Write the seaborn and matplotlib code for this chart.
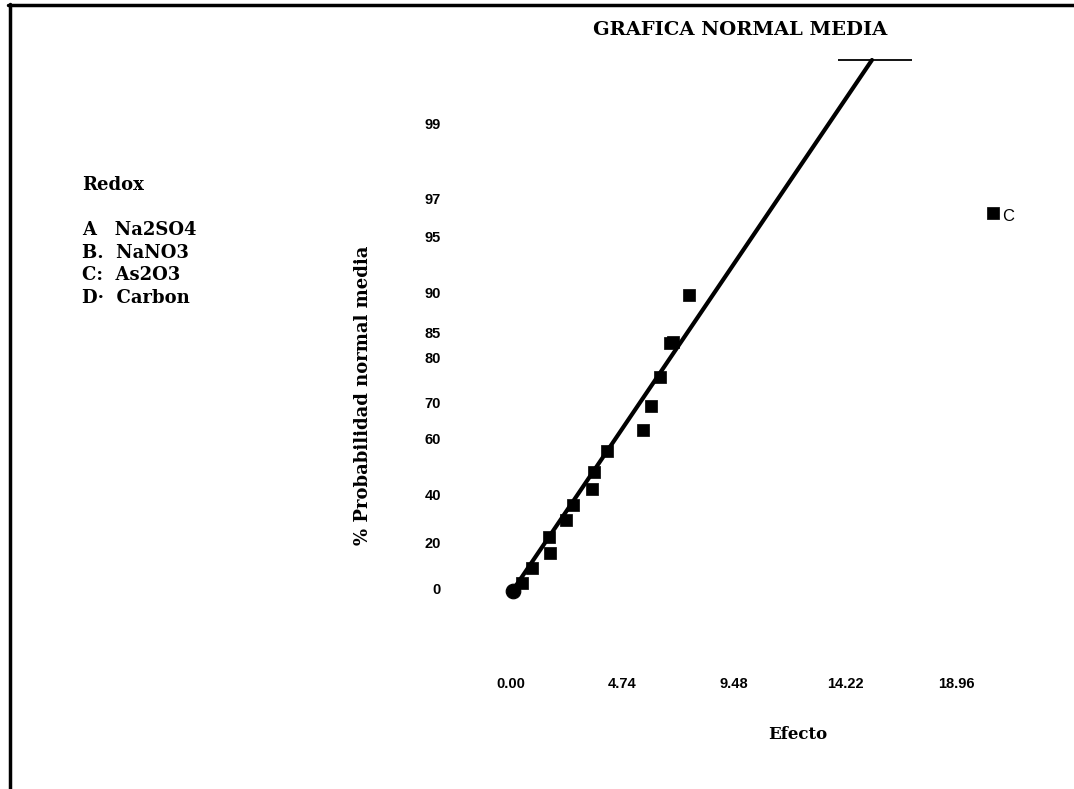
import numpy as np
import pandas as pd
import matplotlib
matplotlib.use("Agg")
import matplotlib.pyplot as plt
from matplotlib.lines import Line2D
import seaborn as sns

# ---------------- data ----------------
effect = [0.47, 0.89, 1.66, 1.62, 2.34, 2.64, 3.45, 3.53, 4.09,
          5.62, 5.96, 6.34, 6.77, 6.89, 7.57, 20.5]
score = [0.06, 0.21, 0.36, 0.52, 0.69, 0.84, 1.00, 1.17, 1.38,
         1.59, 1.83, 2.12, 2.46, 2.47, 2.94, 3.76]
origin_x = [0.08]
origin_y = [-0.02]
line_x = [0.0, 15.36]
line_y = [-0.04, 5.29]
top_seg_x = [13.9, 17.06]

x_ticks = [0.0, 4.74, 9.48, 14.22, 18.96]
x_ticklabels = ["0.00", "4.74", "9.48", "14.22", "18.96"]
y_tick_pos = [0.01, 0.47, 0.94, 1.50, 1.86, 2.31, 2.57, 2.96, 3.52, 3.90, 4.65]
y_ticklabels = ["0", "20", "40", "60", "70", "80", "85", "90", "95", "97", "99"]

legend_lines = ["A   Na2SO4", "B.  NaNO3", "C:  As2O3", "D·  Carbon"]

# ---------------- figure ----------------
sns.set_theme(style="white")
plt.rcParams["font.family"] = ["Liberation Sans Narrow", "Liberation Sans", "DejaVu Sans"]
plt.rcParams["text.color"] = "black"
plt.rcParams["axes.labelcolor"] = "black"
plt.rcParams["xtick.color"] = "black"
plt.rcParams["ytick.color"] = "black"

W, H = 1074, 789
fig = plt.figure(figsize=(W / 100, H / 100), dpi=100)
fig.patch.set_facecolor("white")

def fx(px):
    return px / W

def fy(py):
    return 1 - py / H

ax_l, ax_r, ax_t, ax_b = 470, 1040, 50, 640
ax = fig.add_axes([fx(ax_l), fy(ax_b), (ax_r - ax_l) / W, (ax_b - ax_t) / H])
ax.set_facecolor("white")

x_per_px = 1 / 23.5
ax.set_xlim((ax_l - 511) * x_per_px, (ax_r - 511) * x_per_px)
ax.set_ylim((589 - ax_b) / 100, (589 - ax_t) / 100)

df = pd.DataFrame({"Efecto": effect, "Score": score})
line_df = pd.DataFrame({"x": line_x, "y": line_y})

sns.lineplot(data=line_df, x="x", y="y", ax=ax, color="black", linewidth=3.0,
             solid_capstyle="round", zorder=2)
sns.scatterplot(data=df, x="Efecto", y="Score", ax=ax, marker="s", s=75,
                color="black", edgecolor="black", linewidth=0.5, zorder=3)
sns.scatterplot(x=origin_x, y=origin_y, ax=ax, marker="o", s=110,
                color="black", edgecolor="black", zorder=3)
ax.hlines(line_y[1], top_seg_x[0], top_seg_x[1], color="black", linewidth=1.3,
          clip_on=False)

ax.annotate("C", (effect[-1], score[-1]), xytext=(7, -6), textcoords="offset points",
            fontsize=12, family=["Liberation Sans", "DejaVu Sans"], color="black")

for s in ax.spines.values():
    s.set_visible(False)
ax.grid(False)

ax.set_xticks(x_ticks)
ax.set_xticklabels(x_ticklabels, fontsize=10.5, fontweight="bold")
ax.set_yticks(y_tick_pos)
ax.set_yticklabels(y_ticklabels, fontsize=10.5, fontweight="bold")
ax.tick_params(axis="x", length=0, pad=27)
ax.tick_params(axis="y", length=0, pad=21)

serif = ["DejaVu Serif"]
ax.set_xlabel("Efecto", fontsize=12, fontweight="bold", family=serif)
ax.xaxis.set_label_coords((798 - ax_l) / (ax_r - ax_l), (ax_b - 726) / (ax_b - ax_t))
ax.set_ylabel("% Probabilidad normal media", fontsize=13, fontweight="bold", family=serif)
ax.yaxis.set_label_coords((372 - ax_l) / (ax_r - ax_l), (ax_b - 395) / (ax_b - ax_t))

fig.text(fx(740), fy(30), "GRAFICA NORMAL MEDIA", ha="center", va="center",
         fontsize=14, fontweight="bold", family=serif)

fig.text(fx(82), fy(185), "Redox", ha="left", va="center", fontsize=13,
         fontweight="bold", family=serif)
for i, t in enumerate(legend_lines):
    fig.text(fx(82), fy(230 + i * 22.7), t, ha="left", va="center", fontsize=13,
             fontweight="bold", family=serif)

# page frame (top and left edges)
fig.add_artist(Line2D([fx(8), fx(W)], [fy(5), fy(5)], color="black", linewidth=2.5))
fig.add_artist(Line2D([fx(9.5), fx(9.5)], [fy(4), fy(H)], color="black", linewidth=2.5))

fig.savefig("out.png", dpi=100, facecolor="white")
